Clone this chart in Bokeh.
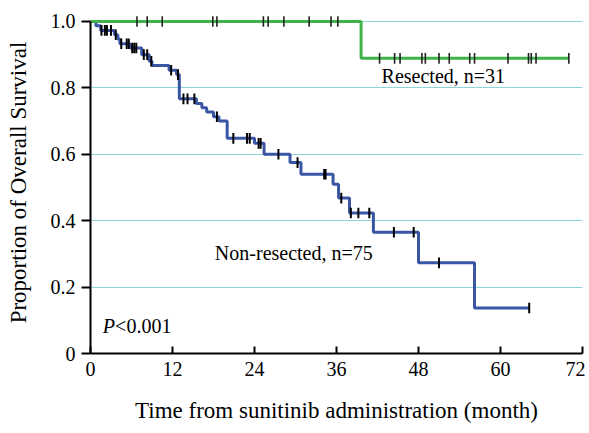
import numpy as np
from bokeh.plotting import figure
from bokeh.models import Range1d, FixedTicker, Label
from bokeh.embed import file_html
from bokeh.resources import INLINE

# ---- data ----
# Non-resected (n=75): event times (months) and survival after each step
nonres_times = [0, 0.8, 1.5, 3.5, 4.0, 4.3, 5.8, 7.5, 8.6, 9.0, 11.5, 12.6, 13.0, 15.5, 16.3,
                17.0, 18.0, 18.8, 20.0, 24.0, 25.4, 29.2, 30.8, 35.5, 36.3, 37.9, 41.4, 48.0, 56.2]
nonres_surv = [1.0, 0.987, 0.973, 0.96, 0.947, 0.933, 0.92, 0.9, 0.88, 0.867, 0.853, 0.84, 0.767, 0.753, 0.74,
               0.727, 0.713, 0.70, 0.648, 0.633, 0.60, 0.575, 0.54, 0.51, 0.468, 0.423, 0.365, 0.273, 0.137]
nonres_end = 64.2
nonres_censor = [1.6, 2.1, 2.4, 3.0, 3.7, 4.5, 5.3, 5.6, 6.1, 6.4, 6.7, 7.8, 8.3, 8.9, 11.8, 12.8,
                 13.6, 14.2, 15.2, 18.5, 20.9, 22.9, 23.3, 24.6, 24.9, 27.5, 30.3, 34.2, 34.4, 36.7,
                 38.1, 39.2, 40.8, 44.4, 47.3, 51.0, 64.2]

# Resected (n=31)
res_times = [0, 39.6]
res_surv = [1.0, 0.889]
res_end = 70.0
res_censor = [6.8, 8.3, 10.5, 17.9, 18.5, 25.3, 26.0, 28.3, 32.0, 35.2, 36.2,
              42.3, 44.5, 45.3, 48.5, 49.0, 51.0, 52.5, 55.5, 56.2, 61.1, 64.1, 64.5, 65.2, 70.0]

x_ticks = [0, 12, 24, 36, 48, 60, 72]
y_ticks = [0, 0.2, 0.4, 0.6, 0.8, 1.0]
y_tick_labels = ["0", "0.2", "0.4", "0.6", "0.8", "1.0"]

BLUE = "#3b55a5"
GREEN = "#3fb34a"
GRID = "#8dd4dc"
FONT = "Liberation Serif"


def surv_at(times, surv, t):
    idx = np.searchsorted(np.asarray(times), np.asarray(t), side="right") - 1
    return np.asarray(surv)[idx]


p = figure(width=585, height=425, output_backend="svg", toolbar_location=None,
           x_range=Range1d(0, 72), y_range=Range1d(0, 1.03),
           min_border_left=90, min_border_right=3, min_border_top=11, min_border_bottom=62)
p.outline_line_color = None
p.background_fill_color = "white"
p.border_fill_color = "white"

# grid
p.xgrid.visible = False
p.ygrid.ticker = FixedTicker(ticks=[0.2, 0.4, 0.6, 0.8, 1.0])
p.ygrid.grid_line_color = GRID
p.ygrid.grid_line_width = 1.2

# axes
p.xaxis.ticker = FixedTicker(ticks=x_ticks)
p.yaxis.ticker = FixedTicker(ticks=y_ticks)
p.yaxis.major_label_overrides = {t: l for t, l in zip(y_ticks, y_tick_labels)}
p.xaxis.bounds = (0, 72)
p.yaxis.bounds = (0, 1.0)
for ax in (p.xaxis[0], p.yaxis[0]):
    ax.axis_line_color = "black"
    ax.axis_line_width = 2
    ax.major_tick_line_color = "black"
    ax.major_tick_line_width = 2
    ax.minor_tick_line_color = None
    ax.major_label_text_font = FONT
    ax.major_label_text_font_size = "20px"
    ax.major_label_text_color = "black"
    ax.axis_label_text_font = FONT
    ax.axis_label_text_font_size = "23px"
    ax.axis_label_text_font_style = "normal"
    ax.axis_label_text_color = "black"
p.xaxis.major_tick_in = 7
p.xaxis.major_tick_out = 0
p.xaxis.major_label_standoff = 8
p.yaxis.major_tick_in = 0
p.yaxis.major_tick_out = 9
p.yaxis.major_label_standoff = 6
p.xaxis.axis_label = "Time from sunitinib administration (month)"
p.yaxis.axis_label = "Proportion of Overall Survival"
p.xaxis.axis_label_standoff = 19
p.yaxis.axis_label_standoff = 17

# survival curves
p.step(x=nonres_times + [nonres_end], y=nonres_surv + [nonres_surv[-1]], mode="after",
       line_color=BLUE, line_width=3)
p.step(x=res_times + [res_end], y=res_surv + [res_surv[-1]], mode="after",
       line_color=GREEN, line_width=3)

# censor marks
d = 0.016
nc = np.asarray(nonres_censor)
ns = surv_at(nonres_times, nonres_surv, nc)
p.segment(x0=nc, y0=ns - d, x1=nc, y1=ns + d, line_color="black", line_width=2)
rc = np.asarray(res_censor)
rs = surv_at(res_times, res_surv, rc)
p.segment(x0=rc, y0=rs - d, x1=rc, y1=rs + d, line_color="#222222", line_width=1.6)

# annotations
p.add_layout(Label(x=42.6, y=0.837, text="Resected, n=31", text_font=FONT,
                   text_font_size="20px", text_baseline="middle", text_color="black"))
p.add_layout(Label(x=18.2, y=0.302, text="Non-resected, n=75", text_font=FONT,
                   text_font_size="20px", text_baseline="middle", text_color="black"))
p.add_layout(Label(x=1.8, y=0.082, text="P", text_font=FONT, text_font_style="italic",
                   text_font_size="20px", text_baseline="middle", text_color="black"))
p.add_layout(Label(x=3.6, y=0.082, text="<0.001", text_font=FONT,
                   text_font_size="20px", text_baseline="middle", text_color="black"))

open("out.html", "w").write(file_html(p, INLINE))
